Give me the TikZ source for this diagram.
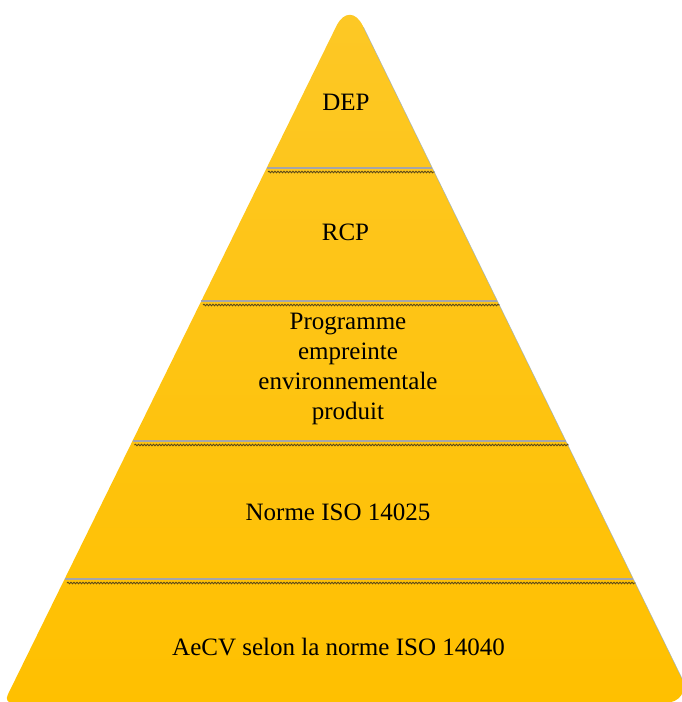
\documentclass[tikz,border=0pt]{standalone}
\usepackage{fontspec}
\setmainfont{Liberation Serif}
\usetikzlibrary{decorations.pathmorphing,calc}
\begin{document}
\begin{tikzpicture}[x=1pt,y=1pt,
  graysep/.style={draw={rgb,255:red,165;green,165;blue,170}, line width=2.4pt},
  darksep/.style={draw={rgb,255:red,90;green,72;blue,25}, line width=0.9pt, decorate,
    decoration={snake,amplitude=0.8pt,segment length=3pt}},
  lbl/.style={font=\fontsize{25}{30}\selectfont, text=black, inner sep=0pt, align=center}]
\useasboundingbox (0,0) rectangle (682,-702);
\coordinate (apex) at (349.7,1);
\coordinate (bl) at (3.7,-703);
\coordinate (br) at (694,-703);
\coordinate (bm) at (349,-703);
\shade[top color={rgb,255:red,253;green,200;blue,38}, bottom color={rgb,255:red,255;green,192;blue,0}]
  (bm) [rounded corners=9pt] -- (bl) [rounded corners=30pt] -- (apex) -- (br) [sharp corners] -- cycle;
% faint outline on right edge
\draw[draw={rgb,255:red,140;green,170;blue,210}, line width=0.6pt, opacity=0.7]
  ($(apex)!0.04!(br)$) -- (br);
% separators
\draw[graysep] (266.6,-168) -- (432.3,-168);
\draw[darksep] (268.0,-172) -- (434.6,-172);
\draw[graysep] (201.3,-301) -- (497.4,-301);
\draw[darksep] (203.0,-305) -- (499.8,-305);
\draw[graysep] (132.5,-441) -- (565.8,-441);
\draw[darksep] (134.5,-445) -- (568.5,-445);
\draw[graysep] (64.6,-579) -- (633.3,-579);
\draw[darksep] (67.0,-583) -- (635.6,-583);
% labels
\node[lbl, anchor=base] (dep) at (346,-110) {DEP};
\node[lbl, anchor=base] (rcp) at (345.5,-240) {RCP};
\node[lbl, anchor=center] (prog) at (348,-369) {Programme\\empreinte\\environnementale\\produit};
\node[lbl, anchor=base] (iso25) at (338,-520) {Norme ISO 14025};
\node[lbl, anchor=base] (iso40) at (338.5,-655) {AeCV selon la norme ISO 14040};
\end{tikzpicture}
\end{document}
